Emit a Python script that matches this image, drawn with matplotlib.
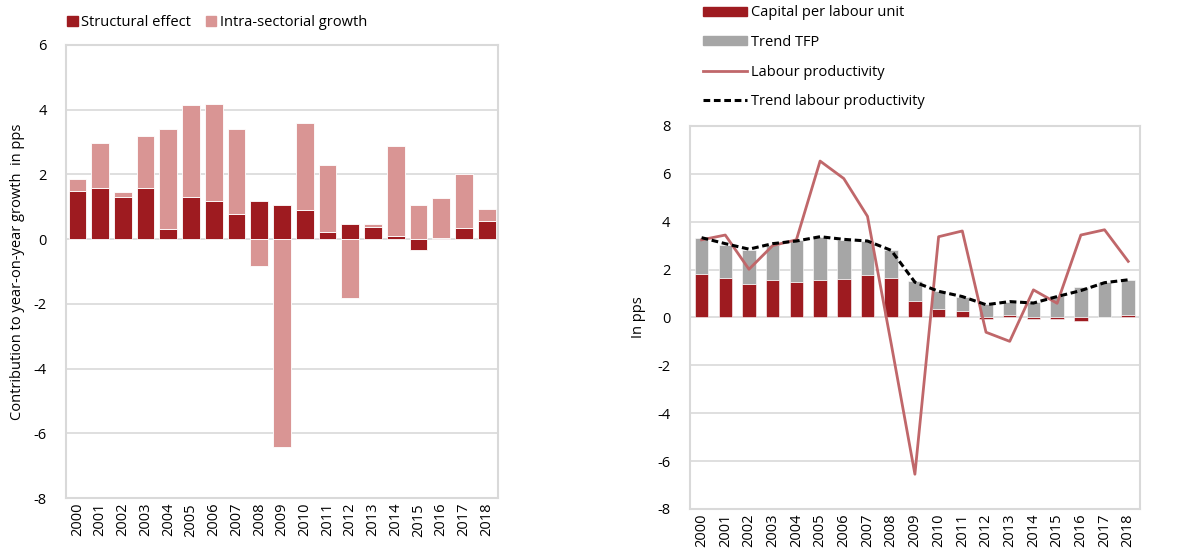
import matplotlib
matplotlib.use("Agg")
import matplotlib.pyplot as plt
import numpy as np
from matplotlib.lines import Line2D
from matplotlib.patches import Patch

plt.rcParams['font.family'] = ['Open Sans', 'DejaVu Sans']

years = [str(y) for y in range(2000, 2019)]

# Left chart
structural = [1.50, 1.59, 1.30, 1.59, 0.30, 1.30, 1.18, 0.79, 1.19, 1.06,
              0.89, 0.22, 0.47, 0.39, 0.09, -0.35, 0.05, 0.34, 0.55]
intra = [0.35, 1.38, 0.16, 1.60, 3.09, 2.84, 3.01, 2.60, -0.82, -6.43,
         2.70, 2.08, -1.81, 0.08, 2.80, 1.05, 1.22, 1.67, 0.38]

# Right chart
capital = [1.83, 1.66, 1.41, 1.55, 1.48, 1.55, 1.59, 1.76, 1.66, 0.70,
           0.36, 0.25, -0.05, 0.12, -0.05, -0.05, -0.15, 0.02, 0.08]
tfp = [1.47, 1.36, 1.42, 1.48, 1.74, 1.81, 1.65, 1.43, 1.14, 0.80,
       0.76, 0.62, 0.55, 0.54, 0.63, 0.90, 1.25, 1.45, 1.49]
labour_prod = [3.24, 3.44, 2.01, 3.00, 3.24, 6.53, 5.80, 4.22, -1.10, -6.55,
               3.37, 3.61, -0.62, -1.00, 1.15, 0.59, 3.44, 3.66, 2.34]
trend_lp = [3.33, 3.08, 2.85, 3.08, 3.19, 3.37, 3.26, 3.19, 2.80, 1.47,
            1.09, 0.87, 0.53, 0.66, 0.60, 0.87, 1.12, 1.45, 1.57]

DARK_RED = '#9E1B20'
PINK = '#D99594'
GRAY = '#A6A6A6'
LP_COL = '#C0676A'
GRID = '#D9D9D9'

fig = plt.figure(figsize=(11.79, 5.52), dpi=100)


def stack(a, b):
    a = np.array(a); b = np.array(b)
    pos_base = np.where(a > 0, a, 0)
    neg_base = np.where(a < 0, a, 0)
    b_bottom = np.where(b >= 0, pos_base, neg_base)
    return b_bottom


def style_axes(ax, ymin, ymax):
    ax.set_ylim(ymin, ymax)
    ax.set_yticks(np.arange(ymin, ymax + 1, 2))
    ax.set_yticklabels([str(int(v)) for v in np.arange(ymin, ymax + 1, 2)])
    ax.grid(axis='y', color=GRID, linewidth=1.2)
    ax.set_axisbelow(True)
    for s in ax.spines.values():
        s.set_color(GRID)
        s.set_linewidth(1.5)
    ax.tick_params(axis='both', length=0, labelsize=10.5, colors='black')
    ax.tick_params(axis='y', pad=14)
    ax.set_xticks(range(len(years)))
    ax.set_xticklabels(years, rotation=90)
    ax.set_xlim(-0.5, len(years) - 0.5)


# ---- Left ----
ax1 = fig.add_axes([0.056, 0.0978, 0.3664, 0.8207])
x = np.arange(len(years))
ax1.bar(x, structural, width=0.78, color=DARK_RED, edgecolor='white', linewidth=0.6)
ax1.bar(x, intra, width=0.78, bottom=stack(structural, intra), color=PINK,
        edgecolor='white', linewidth=0.6)
style_axes(ax1, -8, 6)
ax1.set_ylabel('Contribution to year-on-year growth  in pps', fontsize=10.5, labelpad=6)
fig.legend(handles=[Patch(color=DARK_RED, label='Structural effect'),
                    Patch(color=PINK, label='Intra-sectorial growth')],
           loc='upper left', bbox_to_anchor=(0.046, 0.997), ncol=2, frameon=False,
           fontsize=10.5, handlelength=0.7, handleheight=0.7,
           handletextpad=0.25, columnspacing=1.0)

# ---- Right ----
ax2 = fig.add_axes([0.585, 0.078, 0.382, 0.694])
ax2.bar(x, capital, width=0.57, color=DARK_RED, edgecolor='white', linewidth=0.4,
        label='Capital per labour unit')
ax2.bar(x, tfp, width=0.57, bottom=stack(capital, tfp), color=GRAY,
        edgecolor='white', linewidth=0.4, label='Trend TFP')
ax2.plot(x, labour_prod, color=LP_COL, linewidth=2, label='Labour productivity')
ax2.plot(x, trend_lp, color='black', linewidth=2.2, linestyle=(0, (2.2, 1.2)),
         label='Trend labour productivity')
style_axes(ax2, -8, 8)
ax2.set_ylabel('In pps', fontsize=10.5, labelpad=8)

handles = [Patch(color=DARK_RED, label='Capital per labour unit'),
           Patch(color=GRAY, label='Trend TFP'),
           Line2D([], [], color=LP_COL, lw=2, label='Labour productivity'),
           Line2D([], [], color='black', lw=2.2, linestyle=(0, (2.2, 1.2)),
                  label='Trend labour productivity')]
fig.legend(handles=handles, loc='upper left', bbox_to_anchor=(0.585, 1.014),
           frameon=False, fontsize=10.5, handlelength=3.0, handleheight=0.6,
           handletextpad=0.3, labelspacing=1.0)

fig.savefig('out.png', dpi=100)
